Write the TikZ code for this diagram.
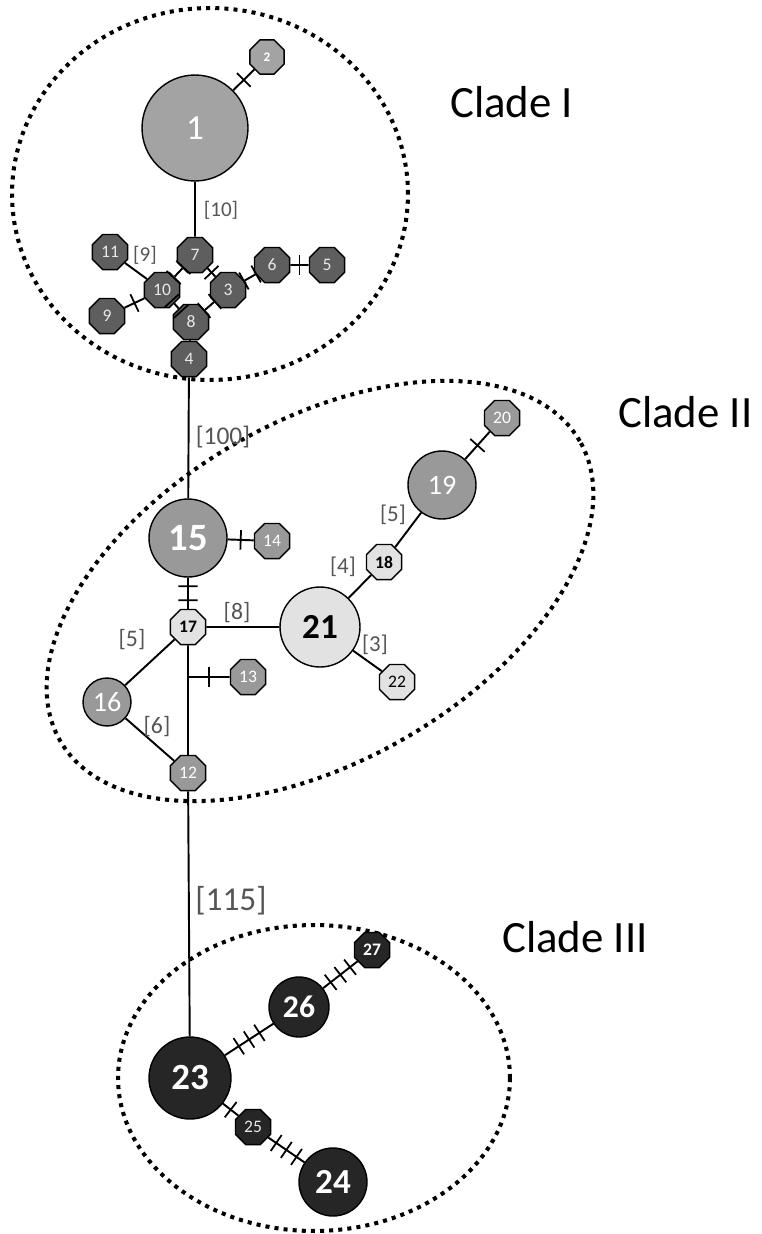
\documentclass[tikz,border=0pt]{standalone}
\usepackage{fontspec}
\setmainfont{Carlito}
\usetikzlibrary{shapes.geometric,decorations.markings}
\definecolor{g1}{HTML}{A3A3A3}
\definecolor{g2}{HTML}{5E5E5E}
\definecolor{g3}{HTML}{999999}
\definecolor{g4}{HTML}{E2E2E2}
\definecolor{g5}{HTML}{262626}
\definecolor{lab}{HTML}{555555}
\definecolor{ltxt}{HTML}{E8E8E8}
\begin{document}
\begin{tikzpicture}[x=0.02cm,y=-0.02cm,
  oct/.style={regular polygon, regular polygon sides=8, draw, line width=0.8pt, inner sep=0pt, minimum size=0.76cm},
  big/.style={circle, draw, line width=0.8pt, inner sep=0pt},
  small/.style={font=\fontsize{10}{10}\selectfont},
  edge/.style={line width=1.1pt},
  tk/.style={line width=1pt},
  t1/.style={postaction={decorate,decoration={markings,mark=at position 0.5 with {\draw[tk] (0,-5.5pt)--(0,5.5pt);}}}},
  t2/.style={postaction={decorate,decoration={markings,mark=at position 0.5 with {\draw[tk] (-4pt,-5.5pt)--(-4pt,5.5pt); \draw[tk] (4pt,-5.5pt)--(4pt,5.5pt);}}}},
  t3/.style={postaction={decorate,decoration={markings,mark=at position 0.5 with {\draw[tk] (-7pt,-5.5pt)--(-7pt,5.5pt); \draw[tk] (0pt,-5.5pt)--(0pt,5.5pt); \draw[tk] (7pt,-5.5pt)--(7pt,5.5pt);}}}},
  dotring/.style={line width=2.3pt, dash pattern=on 2.3pt off 2.9pt},
  elab/.style={text=lab, inner sep=0pt},
  clade/.style={anchor=base west, inner sep=0pt, font=\fontsize{25.5}{25.5}\selectfont}
]
\fill[white] (0,0) rectangle (761,1234);
\useasboundingbox (0,0) rectangle (761,1234);

% clade ellipses
\draw[dotring] (210,194) ellipse [x radius=3.96cm, y radius=3.72cm];
\draw[dotring, rotate around={30:(320,591)}] (320,591) ellipse [x radius=6cm, y radius=3.4cm];
\draw[dotring] (314,1078) ellipse [x radius=3.92cm, y radius=3.06cm];

% Clade I
\node[big, fill=g1, minimum size=2.12cm, text=white, font=\fontsize{20}{20}\selectfont] (n1) at (195,128) {1};
\node[oct, fill=g1, minimum size=0.74cm, text=white, font=\fontsize{7.5}{7.5}\selectfont\bfseries] (n2) at (267,57) {2};
\node[oct, fill=g2, text=ltxt, small] (n3) at (228,290) {3};
\node[oct, fill=g2, text=ltxt, small] (n4) at (189,359) {4};
\node[oct, fill=g2, text=ltxt, small] (n5) at (327,265) {5};
\node[oct, fill=g2, text=ltxt, small] (n6) at (272,265) {6};
\node[oct, fill=g2, text=ltxt, small] (n7) at (195,255) {7};
\node[oct, fill=g2, text=ltxt, small] (n8) at (191,322) {8};
\node[oct, fill=g2, text=ltxt, small] (n9) at (107,316) {9};
\node[oct, fill=g2, text=ltxt, small] (n10) at (162,290) {10};
\node[oct, fill=g2, text=ltxt, small] (n11) at (110,252) {11};

% Clade II
\node[big, fill=g3, minimum size=1.56cm, text=white, font=\fontsize{22}{22}\selectfont\bfseries] (n15) at (188,538) {15};
\node[oct, fill=g3, text=white, small] (n14) at (272,541) {14};
\node[oct, fill=g4, text=black, small, font=\bfseries] (n17) at (188,627) {17};
\node[big, fill=g4, minimum size=1.6cm, text=black, font=\fontsize{20}{20}\selectfont\bfseries] (n21) at (320,627) {21};
\node[oct, fill=g4, text=black, small, font=\bfseries] (n18) at (384,562) {18};
\node[big, fill=g3, minimum size=1.36cm, text=white, font=\fontsize{16}{16}\selectfont] (n19) at (442,485) {19};
\node[oct, fill=g3, text=white, small] (n20) at (502,418) {20};
\node[oct, fill=g4, text=black, small] (n22) at (397,682) {22};
\node[oct, fill=g3, text=white, small] (n13) at (248,677) {13};
\node[big, fill=g3, minimum size=0.96cm, text=white, font=\fontsize{16}{16}\selectfont] (n16) at (107,702) {16};
\node[oct, fill=g3, text=white, small] (n12) at (188,773) {12};
\coordinate (b13) at (188,677);

% Clade III
\node[big, fill=g5, minimum size=1.64cm, text=white, font=\fontsize{21}{21}\selectfont\bfseries] (n23) at (190,1078) {23};
\node[big, fill=g5, minimum size=1.2cm, text=white, font=\fontsize{18}{18}\selectfont\bfseries] (n26) at (299,1007) {26};
\node[oct, fill=g5, text=white, small, font=\bfseries] (n27) at (372,950) {27};
\node[oct, fill=g5, text=ltxt, small] (n25) at (253,1127) {25};
\node[big, fill=g5, minimum size=1.36cm, text=white, font=\fontsize{20}{20}\selectfont\bfseries] (n24) at (333,1182) {24};

% edges
\draw[edge, t1] (n1) -- (n2);
\draw[edge] (n1) -- (n7);
\draw[edge, t2] (n7) -- (n10);
\draw[edge, t1] (n7) -- (n3);
\draw[edge] (n10) -- (n11);
\draw[edge, t1] (n10) -- (n9);
\draw[edge, t2] (n10) -- (n8);
\draw[edge, t2] (n8) -- (n3);
\draw[edge, t2] (n3) -- (n6);
\draw[edge, t1] (n6) -- (n5);
\draw[edge] (n8) -- (n4);
\draw[edge] (n4) -- (n15);
\draw[edge, t1] (n15) -- (n14);
\draw[edge, t2] (n15) -- (n17);
\draw[edge] (n17) -- (n21);
\draw[edge] (n17) -- (n16);
\draw[edge] (n16) -- (n12);
\draw[edge] (n17) -- (n12);
\draw[edge, t1] (b13) -- (n13);
\draw[edge] (n21) -- (n18);
\draw[edge] (n18) -- (n19);
\draw[edge, t1] (n19) -- (n20);
\draw[edge] (n21) -- (n22);
\draw[edge] (n12) -- (n23);
\draw[edge, t3] (n23) -- (n26);
\draw[edge, t3] (n26) -- (n27);
\draw[edge, t1] (n23) -- (n25);
\draw[edge, t3] (n25) -- (n24);

% edge labels
\node[elab, font=\fontsize{12}{12}\selectfont] (l10) at (221,210) {[10]};
\node[elab, font=\fontsize{12}{12}\selectfont] (l9) at (145,255) {[9]};
\node[elab, font=\fontsize{14.5}{14.5}\selectfont] (l100) at (223,437) {[100]};
\node[elab, font=\fontsize{13}{13}\selectfont] (l5a) at (393,515) {[5]};
\node[elab, font=\fontsize{13}{13}\selectfont] (l4) at (343,567) {[4]};
\node[elab, font=\fontsize{13}{13}\selectfont] (l3) at (375,645) {[3]};
\node[elab, font=\fontsize{13.5}{13.5}\selectfont] (l8) at (237,613) {[8]};
\node[elab, font=\fontsize{13.5}{13.5}\selectfont] (l5b) at (132,640) {[5]};
\node[elab, font=\fontsize{13.5}{13.5}\selectfont] (l6) at (157,727) {[6]};
\node[elab, font=\fontsize{19}{19}\selectfont] (l115) at (231,901) {[115]};

% clade names
\node[clade] (c1) at (450,117) {Clade I};
\node[clade] (c2) at (618,427) {Clade II};
\node[clade] (c3) at (502,952) {Clade III};
\end{tikzpicture}
\end{document}
